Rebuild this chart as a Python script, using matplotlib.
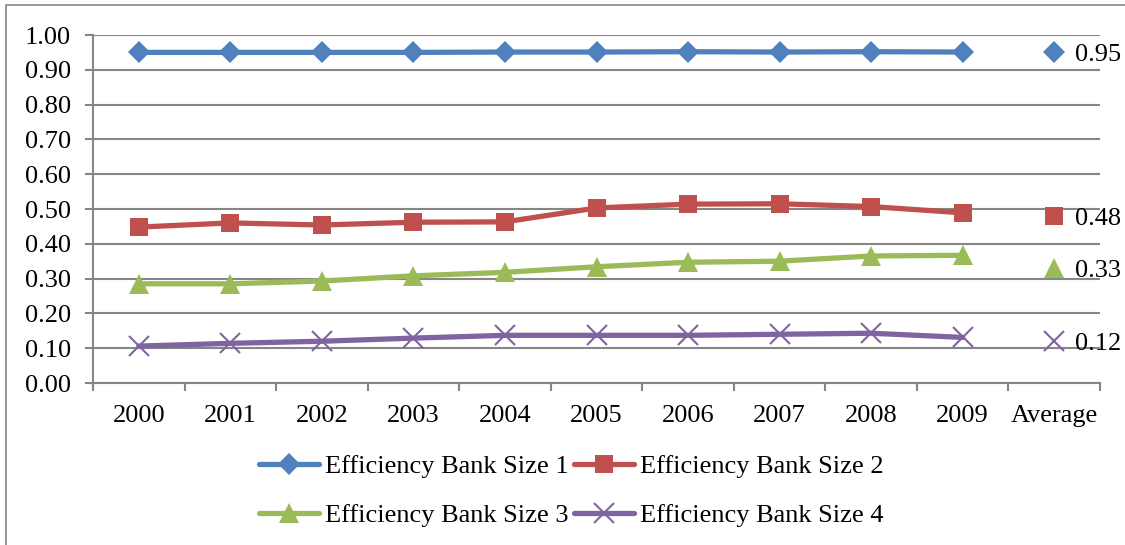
import matplotlib.pyplot as plt
import numpy as np
from matplotlib.patches import Rectangle

plt.rcParams["font.family"] = ["Liberation Serif", "DejaVu Serif"]

years = ["2000", "2001", "2002", "2003", "2004", "2005", "2006", "2007", "2008", "2009"]
categories = years + ["Average"]

size1 = [0.95, 0.95, 0.95, 0.95, 0.951, 0.951, 0.952, 0.951, 0.952, 0.951]
size2 = [0.448, 0.460, 0.454, 0.462, 0.463, 0.503, 0.514, 0.515, 0.507, 0.489]
size3 = [0.285, 0.285, 0.293, 0.308, 0.318, 0.334, 0.347, 0.350, 0.365, 0.367]
size4 = [0.106, 0.114, 0.120, 0.129, 0.137, 0.137, 0.137, 0.140, 0.143, 0.131]
averages = [0.95, 0.48, 0.33, 0.12]

labels = ["Efficiency Bank Size 1", "Efficiency Bank Size 2",
          "Efficiency Bank Size 3", "Efficiency Bank Size 4"]
colors = ["#4F81BD", "#C0504D", "#9BBB59", "#8064A2"]
markers = ["D", "s", "^", "x"]
msizes = [11, 13, 14, 14]

FS = 19

fig = plt.figure(figsize=(11.25, 5.45), dpi=100)
ax = fig.add_axes([93 / 1125, 1 - 383 / 545, (1100 - 93) / 1125, (383 - 35) / 545])

# outer frame of the chart area
fig.patches.append(Rectangle((6 / 1125, -0.05), 1.1, 1 - 5 / 545 + 0.05,
                             transform=fig.transFigure, fill=False,
                             edgecolor="#868686", linewidth=1.2))

x = np.arange(len(years))
handles = []
for series, c, m, ms, lab in zip([size1, size2, size3, size4], colors, markers, msizes, labels):
    mew = 1.5 if m == "x" else 0
    (h,) = ax.plot(x, series, color=c, linewidth=3.8, marker=m, markersize=ms,
                   markeredgewidth=mew, markeredgecolor=c, solid_capstyle="round",
                   label=lab, zorder=3)
    handles.append(h)

avg_x = len(years)
for val, c, m, ms in zip(averages, colors, markers, msizes):
    mew = 1.5 if m == "x" else 0
    ax.plot([avg_x], [val], linestyle="none", marker=m, markersize=ms,
            color=c, markeredgewidth=mew, markeredgecolor=c, zorder=3)
    ax.annotate(f"{val:.2f}", (avg_x, val), xytext=(15, -2), textcoords="offset points",
                ha="left", va="center", fontsize=FS, annotation_clip=False)

ax.set_xlim(-0.5, len(categories) - 0.5)
ax.set_ylim(0, 1.0)
ax.set_yticks(np.arange(0, 1.01, 0.1))
ax.set_yticklabels([f"{v:.2f}" for v in np.arange(0, 1.01, 0.1)])
ax.set_xticks(np.arange(len(categories)))
ax.set_xticklabels(categories)
ax.set_xticks(np.arange(-0.5, len(categories), 1), minor=True)
ax.tick_params(axis="x", which="major", length=0, pad=16, labelsize=FS)
ax.tick_params(axis="x", which="minor", length=6, width=1.5, color="#868686")
ax.tick_params(axis="y", length=6, width=1.5, color="#868686", labelsize=FS, pad=10)

ax.grid(axis="y", color="#868686", linewidth=1.5, zorder=0)
ax.set_axisbelow(True)
for side in ["top", "right"]:
    ax.spines[side].set_visible(False)
for side in ["left", "bottom"]:
    ax.spines[side].set_color("#868686")
    ax.spines[side].set_linewidth(1.5)

# legend is filled column by column, so reorder to get 1 2 / 3 4 rows
order = [0, 2, 1, 3]
fig.legend(handles=[handles[i] for i in order], loc="center",
           bbox_to_anchor=(571 / 1125, 1 - 491 / 545),
           ncol=2, frameon=False, fontsize=FS, handlelength=2.3,
           handletextpad=0.2, columnspacing=0.2, labelspacing=0.95)

fig.savefig("out.png", dpi=100)
